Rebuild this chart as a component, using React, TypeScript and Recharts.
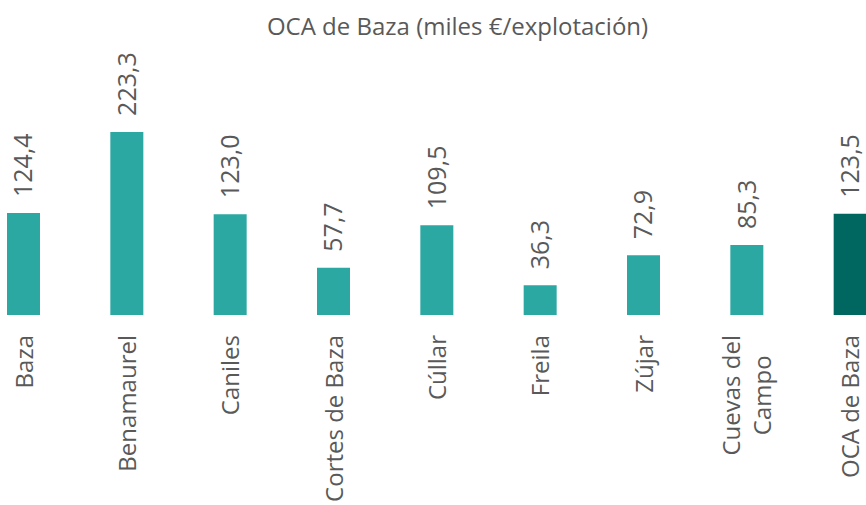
import { BarChart, Bar, XAxis, YAxis, Cell, LabelList } from 'recharts';

const municipios = [
  'Baza',
  'Benamaurel',
  'Caniles',
  'Cortes de Baza',
  'Cúllar',
  'Freila',
  'Zújar',
  'Cuevas del Campo',
  'OCA de Baza',
];
const valores = [124.4, 223.3, 123.0, 57.7, 109.5, 36.3, 72.9, 85.3, 123.5];
// salto de línea en la etiqueta larga
const etiquetas = ['Baza', 'Benamaurel', 'Caniles', 'Cortes de Baza', 'Cúllar', 'Freila', 'Zújar', 'Cuevas del|Campo', 'OCA de Baza'];

const FONT = '"Open Sans", sans-serif';
const TEXT = '#595959';
const TEAL = '#2BA8A2';
const DARK = '#006660';

const data = municipios.map((m, i) => ({ name: m, label: etiquetas[i], value: valores[i] }));

let ctx: CanvasRenderingContext2D | null = null;
function medir(t: string) {
  if (!ctx) ctx = document.createElement('canvas').getContext('2d');
  if (!ctx) return t.length * 12;
  ctx.font = `24px ${FONT}`;
  return ctx.measureText(t).width;
}

function Tick(props: any) {
  const { x, y, payload } = props;
  const item = data.find(d => d.name === payload.value);
  const lines = (item ? item.label : payload.value).split('|');
  const top = y + 18;
  if (lines.length === 1) {
    return (
      <text x={x} y={top} dy={9} transform={`rotate(-90, ${x}, ${top})`} textAnchor="end"
        fill={TEXT} fontSize={24} fontFamily={FONT}>
        {lines[0]}
      </text>
    );
  }
  const w = Math.max(...lines.map(medir));
  const cy = top + w / 2;
  const gap = 31;
  return (
    <g>
      {lines.map((l, i) => {
        const lx = x + (i - (lines.length - 1) / 2) * gap;
        return (
          <text key={i} x={lx} y={cy} dy={9} transform={`rotate(-90, ${lx}, ${cy})`} textAnchor="middle"
            fill={TEXT} fontSize={24} fontFamily={FONT}>
            {l}
          </text>
        );
      })}
    </g>
  );
}

function ValueLabel(props: any) {
  const { x, y, width, value } = props;
  const cx = x + width / 2;
  const by = y - 16;
  return (
    <text x={cx} y={by} dy={9} transform={`rotate(-90, ${cx}, ${by})`} textAnchor="start"
      fill={TEXT} fontSize={25} fontFamily={FONT}>
      {Number(value).toFixed(1).replace('.', ',')}
    </text>
  );
}

export default function App() {
  return (
    <div style={{ position: 'fixed', left: 0, top: 0, width: 866, height: 505, overflow: 'hidden', background: '#fff' }}>
      <div style={{ position: 'absolute', left: 0, top: 14, width: 915, textAlign: 'center', fontFamily: FONT, fontSize: 24, lineHeight: '24px', color: TEXT }}>
        OCA de Baza (miles €/explotación)
      </div>
      <div style={{ position: 'absolute', left: -28, top: 0 }}>
        <BarChart width={930} height={505} data={data} margin={{ top: 110, right: 0, left: 0, bottom: 0 }}>
          <XAxis dataKey="name" height={190} axisLine={false} tickLine={false} tickSize={0} interval={0} tick={<Tick />} />
          <YAxis hide domain={[0, 250]} />
          <Bar dataKey="value" barSize={33} isAnimationActive={false}>
            {data.map((d, i) => (
              <Cell key={d.name} fill={i === data.length - 1 ? DARK : TEAL} />
            ))}
            <LabelList dataKey="value" content={<ValueLabel />} />
          </Bar>
        </BarChart>
      </div>
    </div>
  );
}
